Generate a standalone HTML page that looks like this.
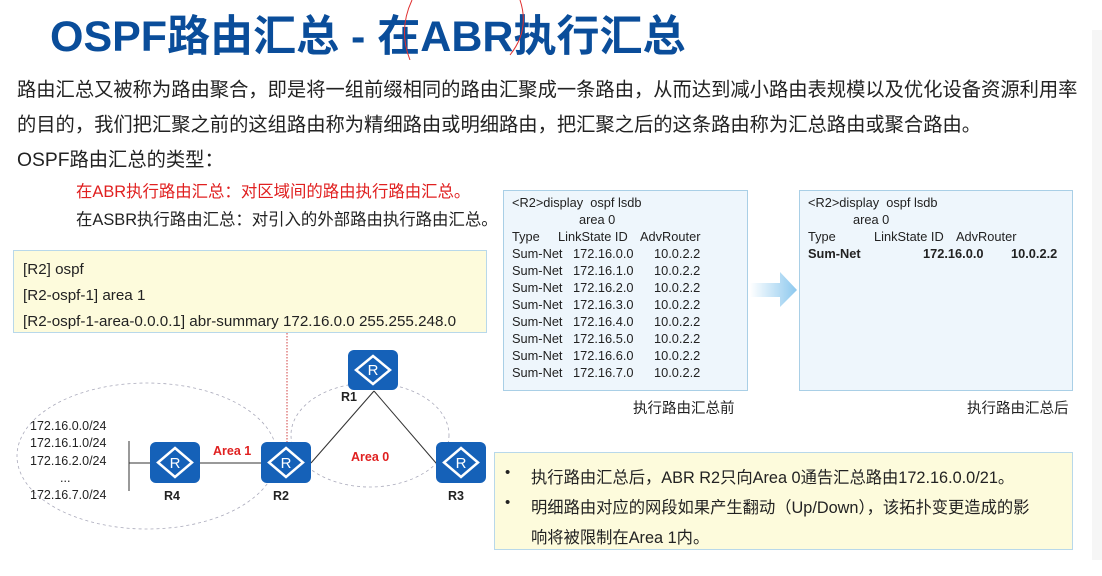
<!DOCTYPE html>
<html><head><meta charset="utf-8"><style>
body{margin:0;width:1102px;height:576px;background:#fff;position:relative;overflow:hidden;font-family:"Liberation Sans","Noto Sans CJK SC",sans-serif;color:#222}
.a{position:absolute;white-space:nowrap}
.title{left:50px;top:2px;font-size:43px;font-weight:bold;color:#0a4d9a}
.p{font-size:19.3px;left:17px}
.box{position:absolute;background:#eef6fc;border:1px solid #a9cfe6;box-sizing:border-box}
.t{position:absolute;font-size:12.8px;white-space:nowrap;line-height:17px}
.y{position:absolute;background:#fdfbdc;border:1px solid #b8d8ea;box-sizing:border-box}
</style></head><body>
<div class="a title">OSPF路由汇总 - 在ABR执行汇总</div>
<svg class="a" style="left:400px;top:0" width="130" height="60"><path d="M120 0 Q130 30 110 55 M12 0 Q-2 30 10 60" fill="none" stroke="#e03030" stroke-width="1"/></svg>
<div class="a p" style="top:74px">路由汇总又被称为路由聚合，即是将一组前缀相同的路由汇聚成一条路由，从而达到减小路由表规模以及优化设备资源利用率</div>
<div class="a p" style="top:109px">的目的，我们把汇聚之前的这组路由称为精细路由或明细路由，把汇聚之后的这条路由称为汇总路由或聚合路由。</div>
<div class="a p" style="top:144px">OSPF路由汇总的类型：</div>
<div class="a" style="left:76px;top:178px;font-size:16.4px;color:#e02020">在ABR执行路由汇总：对区域间的路由执行路由汇总。</div>
<div class="a" style="left:76px;top:206px;font-size:16.4px">在ASBR执行路由汇总：对引入的外部路由执行路由汇总。</div>

<div class="y" style="left:13px;top:250px;width:474px;height:83px;font-size:15.2px;line-height:26px;padding:6px 9px">[R2] ospf<br>[R2-ospf-1] area 1<br>[R2-ospf-1-area-0.0.0.1] abr-summary 172.16.0.0 255.255.248.0</div>

<svg class="a" style="left:0;top:333px" width="500" height="243">
<g fill="none" stroke="#aab" stroke-dasharray="3,3" stroke-width="0.8">
<ellipse cx="147" cy="123" rx="130" ry="73"/>
<ellipse cx="370" cy="102" rx="79" ry="52"/>
</g>
<line x1="287" y1="0" x2="287" y2="109" stroke="#d04040" stroke-dasharray="1.5,1.5"/>
<g stroke="#333" stroke-width="1">
<line x1="129" y1="108" x2="129" y2="158"/><line x1="129" y1="130" x2="270" y2="130"/>
<line x1="311" y1="130" x2="374" y2="58"/><line x1="374" y1="58" x2="436" y2="130"/></g>
<g fill="#1561b8"><rect x="150" y="109" width="50" height="41" rx="6"/><rect x="261" y="109" width="50" height="41" rx="6"/><rect x="348" y="17" width="50" height="40" rx="6"/><rect x="436" y="109" width="50" height="41" rx="6"/></g>
<g fill="none" stroke="#fff" stroke-width="2.5">
<path d="M175 115 L192 129.5 L175 144 L158 129.5Z"/><path d="M286 115 L303 129.5 L286 144 L269 129.5Z"/><path d="M373 23 L390 37 L373 51 L356 37Z"/><path d="M461 115 L478 129.5 L461 144 L444 129.5Z"/></g>
<g fill="#fff" font-size="15" font-family="Liberation Sans" text-anchor="middle"><text x="175" y="135">R</text><text x="286" y="135">R</text><text x="373" y="42">R</text><text x="461" y="135">R</text></g>
<g font-size="12.5" font-weight="bold" font-family="Liberation Sans" fill="#222" text-anchor="middle"><text x="172" y="167">R4</text><text x="281" y="167">R2</text><text x="349" y="68">R1</text><text x="456" y="167">R3</text></g>
<g font-size="12.5" font-weight="bold" font-family="Liberation Sans" fill="#e02020"><text x="213" y="122">Area 1</text><text x="351" y="128">Area 0</text></g>
<g font-size="12.5" font-family="Liberation Sans" fill="#222"><text x="30" y="97">172.16.0.0/24</text><text x="30" y="114">172.16.1.0/24</text><text x="30" y="132">172.16.2.0/24</text><text x="60" y="149">...</text><text x="30" y="166">172.16.7.0/24</text></g>
</svg>

<div class="box" style="left:503px;top:190px;width:245px;height:201px"></div>
<div class="t" style="left:512px;top:194px">&lt;R2&gt;display&nbsp; ospf lsdb</div>
<div class="t" style="left:579px;top:211px">area 0</div>
<div class="t" style="left:512px;top:228px">Type</div><div class="t" style="left:558px;top:228px">LinkState ID</div><div class="t" style="left:640px;top:228px">AdvRouter</div>
<div class="t" style="left:512px;top:245px">Sum-Net<br>Sum-Net<br>Sum-Net<br>Sum-Net<br>Sum-Net<br>Sum-Net<br>Sum-Net<br>Sum-Net</div>
<div class="t" style="left:573px;top:245px">172.16.0.0<br>172.16.1.0<br>172.16.2.0<br>172.16.3.0<br>172.16.4.0<br>172.16.5.0<br>172.16.6.0<br>172.16.7.0</div>
<div class="t" style="left:654px;top:245px">10.0.2.2<br>10.0.2.2<br>10.0.2.2<br>10.0.2.2<br>10.0.2.2<br>10.0.2.2<br>10.0.2.2<br>10.0.2.2</div>

<svg class="a" style="left:750px;top:272px" width="48" height="36"><defs><linearGradient id="g"><stop offset="0" stop-color="#fff"/><stop offset="1" stop-color="#8cc8ee"/></linearGradient></defs><path d="M0 11 H30 V0 L47 18 L30 35 V25 H0Z" fill="url(#g)"/></svg>

<div class="box" style="left:799px;top:190px;width:274px;height:201px"></div>
<div class="t" style="left:808px;top:194px">&lt;R2&gt;display&nbsp; ospf lsdb</div>
<div class="t" style="left:853px;top:211px">area 0</div>
<div class="t" style="left:808px;top:228px">Type</div><div class="t" style="left:874px;top:228px">LinkState ID</div><div class="t" style="left:956px;top:228px">AdvRouter</div>
<div class="t" style="left:808px;top:245px;font-weight:bold">Sum-Net</div><div class="t" style="left:923px;top:245px;font-weight:bold">172.16.0.0</div><div class="t" style="left:1011px;top:245px;font-weight:bold">10.0.2.2</div>

<div class="a" style="left:633px;top:397px;font-size:14.5px">执行路由汇总前</div>
<div class="a" style="left:967px;top:397px;font-size:14.5px">执行路由汇总后</div>

<div class="y" style="left:494px;top:452px;width:579px;height:98px"></div>
<div class="a" style="left:505px;top:464px;font-size:15px">•</div>
<div class="a" style="left:505px;top:494px;font-size:15px">•</div>
<div class="a" style="left:531px;top:464px;font-size:16.3px">执行路由汇总后，ABR R2只向Area 0通告汇总路由172.16.0.0/21。</div>
<div class="a" style="left:531px;top:494px;font-size:16.3px">明细路由对应的网段如果产生翻动（Up/Down），该拓扑变更造成的影</div>
<div class="a" style="left:531px;top:524px;font-size:16.3px">响将被限制在Area 1内。</div>
<div class="a" style="left:1092px;top:30px;width:10px;height:530px;background:#f6f6f6"></div>
</body></html>
